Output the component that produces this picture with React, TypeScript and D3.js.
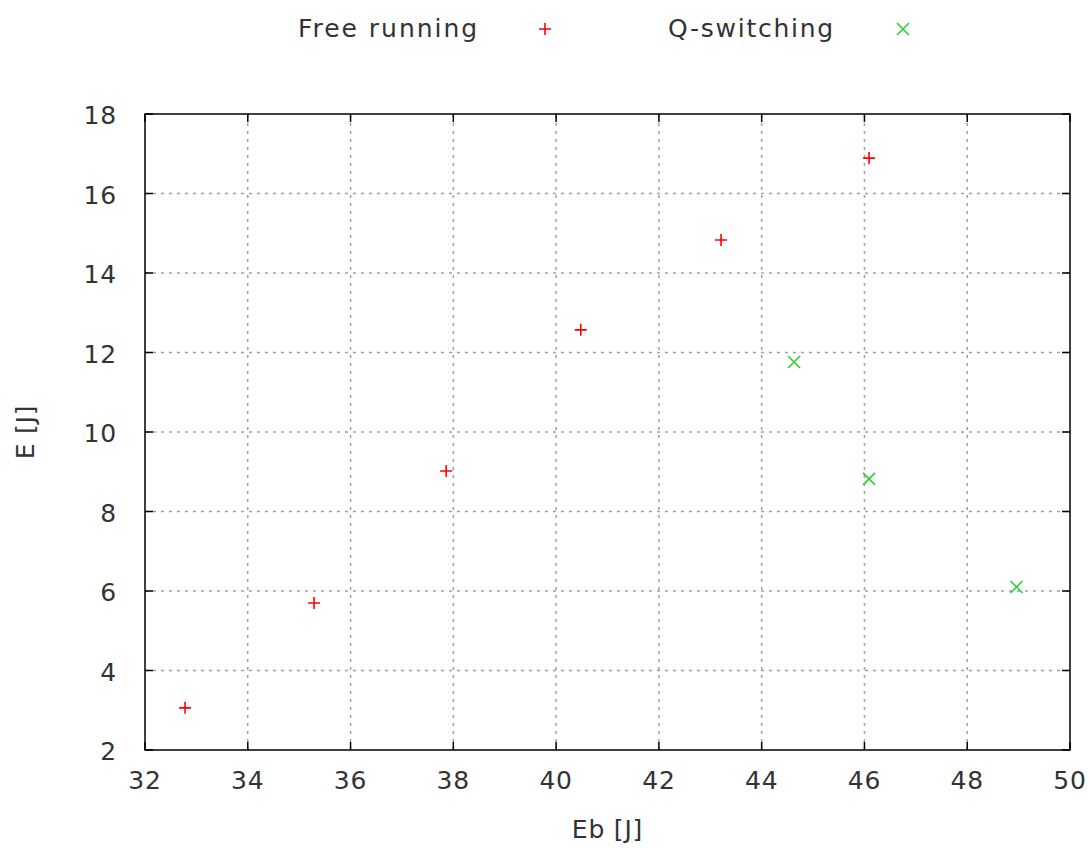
import React from "react";
import * as d3 from "d3";

// Free running points
const freeEb = [32.78, 35.29, 37.86, 40.48, 43.21, 46.09];
const freeE = [3.06, 5.7, 9.02, 12.57, 14.83, 16.89];
// Q-switching points
const qEb = [44.63, 46.09, 48.96];
const qE = [11.76, 8.82, 6.1];

const xTicks = [32, 34, 36, 38, 40, 42, 44, 46, 48, 50];
const yTicks = [2, 4, 6, 8, 10, 12, 14, 16, 18];

const W = 1090, H = 848;
const margin = { left: 145, right: 20, top: 114, bottom: 98 };
const font = "'DejaVu Sans', sans-serif";
const txt = { fontFamily: font, fontSize: 25, fill: "#333", letterSpacing: 0.8 };

const Plus = ({ x, y, c }: { x: number; y: number; c: string }) => (
  <path d={`M${x - 6},${y}H${x + 6}M${x},${y - 6}V${y + 6}`} stroke={c} strokeWidth={1.6} />
);
const Cross = ({ x, y, c }: { x: number; y: number; c: string }) => (
  <path d={`M${x - 6},${y - 6}L${x + 6},${y + 6}M${x - 6},${y + 6}L${x + 6},${y - 6}`} stroke={c} strokeWidth={1.6} />
);

export default function App() {
  const x = d3.scaleLinear().domain([32, 50]).range([margin.left, W - margin.right]);
  const y = d3.scaleLinear().domain([2, 18]).range([H - margin.bottom, margin.top]);
  const [x0, x1] = x.range();
  const [y0, y1] = y.range();
  const red = "#ff0000";
  const green = "#33cc33";
  const grid = "#a0a0a0";

  return (
    <svg width={W} height={H} style={{ position: "absolute", left: 0, top: 0 }}>
      <rect width={W} height={H} fill="#fff" />
      {/* grid */}
      {xTicks.slice(1, -1).map((t) => (
        <line key={"gx" + t} x1={x(t)} x2={x(t)} y1={y0} y2={y1} stroke={grid} strokeWidth={1.5} strokeDasharray="3,5" />
      ))}
      {yTicks.slice(1, -1).map((t) => (
        <line key={"gy" + t} x1={x0} x2={x1} y1={y(t)} y2={y(t)} stroke={grid} strokeWidth={1.5} strokeDasharray="3,5" />
      ))}
      {/* ticks */}
      {xTicks.map((t) => (
        <g key={"tx" + t}>
          <line x1={x(t)} x2={x(t)} y1={y0} y2={y0 - 8} stroke="#000" strokeWidth={1.5} />
          <line x1={x(t)} x2={x(t)} y1={y1} y2={y1 + 8} stroke="#000" strokeWidth={1.5} />
          <text x={x(t)} y={y0 + 39} textAnchor="middle" {...txt}>{t}</text>
        </g>
      ))}
      {yTicks.map((t) => (
        <g key={"ty" + t}>
          <line x1={x0} x2={x0 + 8} y1={y(t)} y2={y(t)} stroke="#000" strokeWidth={1.5} />
          <line x1={x1} x2={x1 - 8} y1={y(t)} y2={y(t)} stroke="#000" strokeWidth={1.5} />
          <text x={x0 - 28} y={y(t) + 10} textAnchor="end" {...txt}>{t}</text>
        </g>
      ))}
      <rect x={x0} y={y1} width={x1 - x0} height={y0 - y1} fill="none" stroke="#000" strokeWidth={1.5} />
      {/* points */}
      {freeEb.map((v, i) => <Plus key={"f" + i} x={x(v)} y={y(freeE[i])} c={red} />)}
      {qEb.map((v, i) => <Cross key={"q" + i} x={x(v)} y={y(qE[i])} c={green} />)}
      {/* axis labels */}
      <text x={(x0 + x1) / 2} y={838} textAnchor="middle" {...txt}>Eb [J]</text>
      <text transform={`translate(34,${(y0 + y1) / 2}) rotate(-90)`} textAnchor="middle" {...txt}>E [J]</text>
      {/* legend */}
      <text x={298} y={37} textAnchor="start" {...txt} textLength={180} lengthAdjust="spacing">Free running</text>
      <Plus x={545} y={29} c={red} />
      <text x={668} y={37} textAnchor="start" {...txt} textLength={166} lengthAdjust="spacing">Q-switching</text>
      <Cross x={903} y={29} c={green} />
    </svg>
  );
}
